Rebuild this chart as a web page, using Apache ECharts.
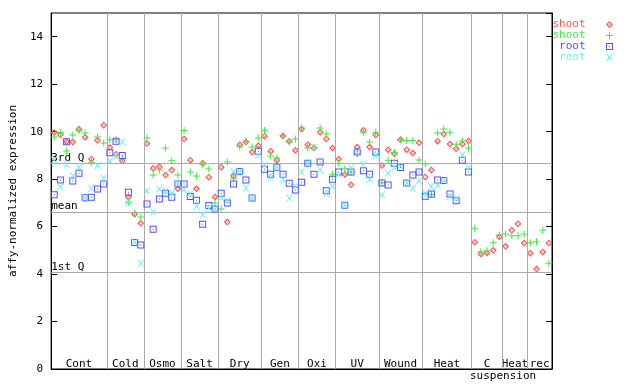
<!DOCTYPE html>
<html><head><meta charset="utf-8">
<script src="https://cdn.jsdelivr.net/npm/echarts@6/dist/echarts.min.js"></script>
<style>html,body{margin:0;padding:0;background:#fff}#c{width:640px;height:384px}</style>
</head><body><div id="c"></div>
<script>
const groupNames = ['Cont','Cold','Osmo','Salt','Dry','Gen','Oxi','UV','Wound','Heat','C','Heat','rec'];
const groupSizes = [9,6,6,6,7,6,6,7,7,8,5,4,4];
const subLabel = 'suspension';
const subLabelGroup = 10;

const shootRep1 = [9.97,9.87,9.58,9.56,10.1,9.77,8.85,9.64,10.27,
  9.33,9.05,8.76,7.25,6.52,6.14,
  9.5,8.46,8.52,8.17,8.38,7.59,
  9.69,8.8,7.59,8.67,8.08,7.25,
  8.5,6.19,8.13,9.45,9.56,9.14,9.41,
  9.81,9.18,8.8,9.82,9.6,9.22,
  10.11,9.45,9.31,9.98,9.69,9.31,
  8.85,8.2,7.76,9.35,10.06,9.35,9.86,
  8.57,9.24,9.07,9.66,9.24,9.1,9.53,
  8.09,8.39,9.6,9.9,9.48,9.28,9.48,9.61,
  5.34,4.85,4.89,5.0,5.57,
  5.17,5.85,6.12,5.31,
  4.88,4.21,4.93,5.31];
const shootRep2 = [9.78,9.97,9.19,9.86,10.04,9.94,8.71,9.78,9.52,
  9.66,9.66,8.85,7.03,6.57,6.4,
  9.73,8.17,8.38,9.31,8.77,8.17,
  10.05,8.3,8.13,8.63,8.43,6.99,
  6.74,8.72,8.04,9.35,9.6,9.35,9.73,
  10.05,8.97,8.89,9.84,9.56,9.69,
  10.15,9.31,9.33,10.15,9.9,8.21,
  8.67,8.44,8.3,9.08,9.98,9.56,9.98,
  7.85,8.8,9.12,9.66,9.63,9.63,8.81,
  8.64,7.35,9.94,10.11,9.98,9.47,9.61,9.31,
  5.93,4.94,4.98,5.32,5.65,
  5.69,5.61,5.61,5.69,
  5.32,5.36,5.85,4.46];
const rootRep1 = [7.34,7.96,9.57,7.92,8.25,7.22,7.24,7.58,7.8,
  9.11,9.6,9.0,7.45,5.33,5.22,
  6.95,5.89,7.16,7.41,7.24,7.79,
  7.79,7.27,7.11,6.1,6.89,6.74,
  7.4,6.99,7.79,8.32,7.96,7.2,9.18,
  8.42,8.21,8.5,8.21,7.83,7.54,
  7.87,8.67,8.21,8.72,7.51,8.0,
  8.3,6.9,8.3,9.14,8.35,8.21,9.14,
  7.84,7.75,8.67,8.49,7.84,8.17,8.3,
  7.28,7.37,7.96,7.94,7.37,7.09,8.8,8.3,
  null,null,null,null,null,null,null,null,null,null,null,null,null];
const rootRep2 = [8.8,7.67,8.64,8.14,8.5,7.2,7.62,8.57,8.04,
  8.77,8.96,9.57,7.03,5.35,4.46,
  7.51,6.61,7.59,7.51,7.41,7.8,
  7.55,7.39,6.86,6.5,6.78,6.75,
  7.22,7.09,8.32,8.32,7.62,7.2,9.0,
  8.58,8.08,8.52,8.0,7.2,7.7,
  8.29,8.65,9.35,8.39,7.39,7.69,
  8.18,6.9,8.47,9.12,8.63,8.0,9.0,
  7.34,8.25,8.5,8.55,7.84,7.62,7.93,
  7.41,7.69,7.75,7.94,7.27,7.2,9.03,8.48,
  null,null,null,null,null,null,null,null,null,null,null,null,null];

const quartileValues = [8.67, 6.61, 4.08];
const quartileLabels = ['3rd Q', 'mean', '1st Q'];
const seriesNames = ['shoot', 'shoot ', 'root', 'root '];
const yMin = 0, yMax = 15, yInterval = 2;

const FONT = 'DejaVu Sans Mono';
const colors = ['#ff5050', '#40e840', '#5050ff', '#60f4f4'];
const symbols = [
  'path://M3.5,0L7,3.5L3.5,7L0,3.5Z M3.5,1.6L1.6,3.5L3.5,5.4L5.4,3.5Z M3,3H4V4H3Z',
  'path://M3,0H4V3H7V4H4V7H3V4H0V3H3Z',
  'path://M0,0H7V7H0Z M1,1V6H6V1Z M3,3H4V4H3Z',
  'path://M0,0L1,0L3.5,2.6L6,0L7,0L4.1,3.5L7,7L6,7L3.5,4.4L1,7L0,7L2.9,3.5Z'
];

let acc = 0;
const ends = groupSizes.map(s => (acc += s));
const starts = ends.map((e, i) => e - groupSizes[i]);
const total = acc;

function toData(arr) {
  const out = [];
  arr.forEach((v, i) => { if (v != null) out.push([i + 0.5, v]); });
  return out;
}

const series = [shootRep1, shootRep2, rootRep1, rootRep2].map((arr, k) => ({
  name: seriesNames[k], type: 'scatter', data: toData(arr),
  symbol: symbols[k], symbolSize: 7,
  itemStyle: { color: colors[k], opacity: 1 },
  emphasis: { disabled: true }, z: 3 + k
}));

const areaData = groupNames.map((n, i) => [
  { name: n, xAxis: starts[i], yAxis: yMin },
  { xAxis: ends[i], yAxis: yMax }
]);
areaData.push([
  { name: subLabel, xAxis: starts[subLabelGroup], yAxis: yMin,
    label: { position: 'bottom', distance: 2, offset: [16, 0] } },
  { xAxis: ends[subLabelGroup], yAxis: yMin + 0.001 }
]);

series.unshift({
  name: 'marks', type: 'scatter', data: [], silent: true, z: 1,
  markLine: {
    silent: true, symbol: 'none', animation: false,
    lineStyle: { color: '#aaaaaa', width: 1, type: 'solid' },
    label: { show: false },
    data: ends.slice(0, -1).map(b => ({ xAxis: b }))
      .concat(quartileValues.map((v, i) => ({
        yAxis: v, name: quartileLabels[i],
        label: { show: true, position: 'insideStartTop', formatter: '{b}', color: '#000',
          fontFamily: FONT, fontSize: 11, distance: [0, 0], padding: 0 }
      })))
  },
  markArea: {
    silent: true, animation: false,
    itemStyle: { color: 'rgba(0,0,0,0)' },
    label: { show: true, position: 'insideBottom', distance: -1, color: '#000',
      fontFamily: FONT, fontSize: 11 },
    data: areaData
  }
});

const chart = echarts.init(document.getElementById('c'), null, { renderer: 'canvas' });
chart.setOption({
  animation: false,
  backgroundColor: '#fff',
  grid: { left: 44, right: 88, top: 13, bottom: 15, show: true, borderColor: '#000', borderWidth: 1, backgroundColor: 'transparent' },
  legend: {
    orient: 'vertical', right: 22, top: 14, align: 'right',
    itemWidth: 38, itemHeight: 7, itemGap: 0, selectedMode: false,
    textStyle: { fontFamily: FONT, fontSize: 11, lineHeight: 11 },
    data: seriesNames.map((n, k) => ({ name: n, textStyle: { color: colors[k] } })),
    formatter: n => n.trim()
  },
  xAxis: {
    type: 'value', min: 0, max: total,
    axisLine: { show: true, lineStyle: { color: '#000' } },
    axisTick: { show: false }, axisLabel: { show: false }, splitLine: { show: false }
  },
  yAxis: [{
    type: 'value', min: yMin, max: yMax, interval: yInterval, position: 'left',
    name: 'affy-normalized expression', nameLocation: 'middle', nameGap: 32, nameRotate: 90,
    nameTextStyle: { fontFamily: FONT, fontSize: 11, color: '#000' },
    axisLine: { show: true, lineStyle: { color: '#000' } },
    axisTick: { show: true, inside: true, length: 6, lineStyle: { color: '#000' } },
    axisLabel: { color: '#000', fontFamily: FONT, fontSize: 11, margin: 8, showMaxLabel: false },
    splitLine: { show: false }
  }, {
    type: 'value', min: yMin, max: yMax, interval: yInterval, position: 'right',
    axisLine: { show: true, lineStyle: { color: '#000' } },
    axisTick: { show: true, inside: true, length: 6, lineStyle: { color: '#000' } },
    axisLabel: { show: false }, splitLine: { show: false }
  }],
  series: series
});
</script></body></html>
